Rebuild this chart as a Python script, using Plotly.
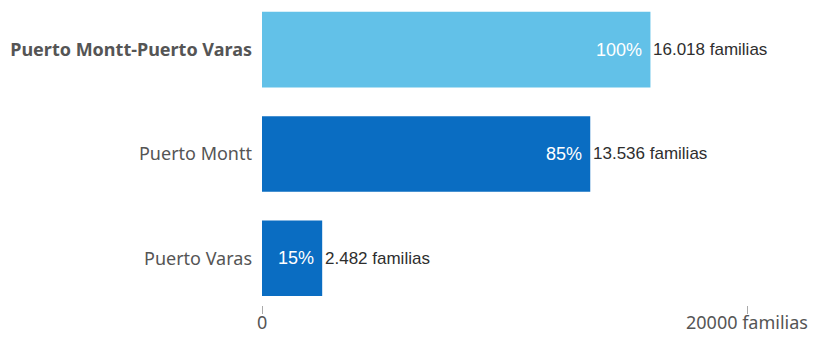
import plotly.graph_objects as go

categories = ["Puerto Varas", "Puerto Montt", "Puerto Montt-Puerto Varas"]
tick_labels = ["Puerto Varas", "Puerto Montt", "<b>Puerto Montt-Puerto Varas</b>"]
values = [2482, 13536, 16018]
percents = ["15%", "85%", "100%"]
value_labels = ["2.482 familias", "13.536 familias", "16.018 familias"]
colors = ["#0A6DC2", "#0A6DC2", "#62C1E8"]
x_ticks = [0, 20000]
x_tick_labels = ["0", "20000 familias"]

cond = "Liberation Sans, Arial, sans-serif"

fig = go.Figure()
fig.add_trace(go.Bar(
    y=categories, x=values, orientation="h",
    marker=dict(color=colors, line=dict(width=0)),
    width=0.725, hoverinfo="skip",
))
for c, v, pct, lab in zip(categories, values, percents, value_labels):
    fig.add_annotation(x=v, y=c, text=pct, showarrow=False, xanchor="right",
                       xshift=-6, font=dict(family=cond, size=18, color="white"))
    fig.add_annotation(x=v, y=c, text=lab, showarrow=False, xanchor="left",
                       xshift=1, font=dict(family=cond, size=17, color="#2e2e2e"))
for tv, tl in zip(x_ticks, x_tick_labels):
    fig.add_annotation(x=tv, xref="x", y=0, yref="paper", text=tl, showarrow=False,
                       xanchor="center", yanchor="top", yshift=-4, borderpad=0,
                       font=dict(family="Noto Sans", size=18, color="#555555"))

fig.update_layout(
    width=817, height=337,
    margin=dict(l=262, r=70, t=0, b=32, autoexpand=False),
    paper_bgcolor="white", plot_bgcolor="white",
    showlegend=False,
)
fig.update_xaxes(range=[0, 20000], tickvals=x_ticks, showticklabels=False,
                 showgrid=False, zeroline=False, showline=False, automargin=False,
                 ticks="outside", ticklen=8, tickcolor="#aaaaaa", tickwidth=1)
fig.update_yaxes(type="category", categoryorder="array", categoryarray=categories,
                 tickvals=categories, ticktext=tick_labels, automargin=False,
                 range=[-0.448, 2.476], showgrid=False, zeroline=False, showline=False,
                 ticks="", ticklabelstandoff=9,
                 tickfont=dict(family="Noto Sans", size=18, color="#555555"))

fig.write_html("out.html")
